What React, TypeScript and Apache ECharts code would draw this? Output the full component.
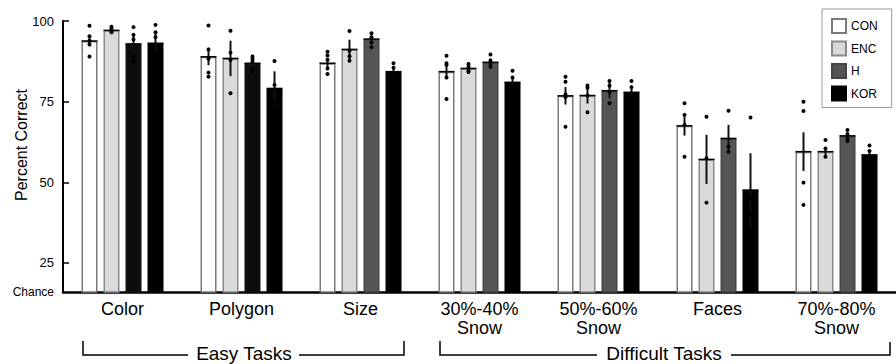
import React, { useEffect, useRef } from "react";
import * as echarts from "echarts";

const categories = ["Color", "Polygon", "Size", "30%-40%\nSnow", "50%-60%\nSnow", "Faces", "70%-80%\nSnow"];
const groups = ["CON", "ENC", "H", "KOR"];

const conMean = [93.8, 88.9, 86.9, 84.3, 76.8, 67.5, 59.5];
const encMean = [97.1, 88.4, 91.2, 85.3, 76.9, 57.1, 59.5];
const hMean = [92.9, 86.9, 94.4, 87.2, 78.4, 63.6, 64.4];
const korMean = [93.1, 79.1, 84.3, 81.0, 77.9, 47.6, 58.5];

const conSem = [1.5, 2.6, 1.2, 2.2, 2.7, 3.0, 6.0];
const encSem = [0.6, 5.5, 3.0, 0.8, 2.5, 7.6, 1.3];
const hSem = [3.3, 1.0, 1.0, 1.2, 2.4, 4.2, 0.8];
const korSem = [3.5, 5.3, 1.5, 1.5, 1.5, 11.4, 1.2];

const conDots = [
  [98.5, 95.3, 93.9, 92.7, 89.0],
  [98.6, 91.2, 88.3, 84.0, 82.7],
  [90.5, 89.3, 88.0, 85.3, 83.6],
  [89.2, 86.9, 86.4, 82.5, 75.8],
  [82.7, 81.2, 77.3, 76.4, 67.2],
  [74.5, 70.9, 67.8, 57.9],
  [75.0, 72.1, 49.9, 43.0],
];
const encDots = [
  [98.2, 97.6, 97.0, 96.5],
  [97.0, 90.2, 87.9, 77.6],
  [96.9, 90.8, 89.1, 87.7],
  [86.7, 85.8, 84.6, 84.2],
  [80.0, 79.3, 76.9, 71.7],
  [70.3, 57.5, 43.7],
  [63.1, 60.5, 57.9],
];
const hDots = [
  [98.1, 95.7, 94.3, 89.0, 87.4],
  [89.0, 88.3, 87.5, 85.0, 84.5],
  [96.2, 95.0, 93.3, 91.9],
  [89.6, 87.7, 86.7, 85.8],
  [81.4, 79.9, 77.8, 74.5],
  [72.2, 61.0, 59.5],
  [66.2, 65.0, 63.6, 62.8],
];
const korDots = [
  [98.8, 96.5, 95.0, 90.0, 86.0],
  [87.6, 80.2, 75.0, 73.0],
  [86.9, 85.5, 83.0, 82.0],
  [84.6, 82.5, 79.5, 77.5],
  [81.4, 79.5, 76.0, 74.7],
  [70.1, 45.0, 40.0, 35.0],
  [61.4, 59.7, 57.5, 55.5],
];

const chanceLevel = 16;
const yTicks = [25, 50, 75, 100];

const FONT = "Liberation Sans, Arial, Helvetica, sans-serif";

export default function App() {
  const ref = useRef<HTMLDivElement>(null);
  useEffect(() => {
    if (!ref.current) return;
    const chart = echarts.init(ref.current, undefined, { renderer: "svg" });
    const means = [conMean, encMean, hMean, korMean];
    const sems = [conSem, encSem, hSem, korSem];
    const dots = [conDots, encDots, hDots, korDots];
    const fills = ["#ffffff", "#dadada", "#555555", "#000000"];
    const borders = ["#7a7a7a", "#8a8a8a", "#444444", "#000000"];
    const step = 22;

    const barSeries = groups.map((g, gi) => ({
      name: g,
      type: "bar",
      barWidth: 16,
      barGap: "37.5%",
      itemStyle: { color: fills[gi], borderColor: borders[gi], borderWidth: 1.5 },
      data: means[gi].map((v, ci) =>
        gi === 2 && ci < 2 ? { value: v, itemStyle: { color: "#0d0d0d", borderColor: "#111" } } : v
      ),
    }));

    const errData: number[][] = [];
    const dotData: number[][] = [];
    groups.forEach((_, gi) => {
      categories.forEach((_, ci) => {
        const m = means[gi][ci];
        const s = sems[gi][ci];
        errData.push([ci, gi, m - s, m + s, m]);
        dots[gi][ci].forEach((d) => dotData.push([ci, gi, d]));
      });
    });

    const option: any = {
      animation: false,
      textStyle: { fontFamily: FONT, color: "#000" },
      grid: { left: 63, top: 21, width: 840, bottom: 72 },
      legend: {
        data: groups,
        orient: "vertical",
        left: 822,
        top: 9,
        icon: "rect",
        itemWidth: 14,
        itemHeight: 14,
        itemGap: 6.5,
        padding: [9, 14, 6, 9],
        borderColor: "#999",
        borderWidth: 1,
        textStyle: { fontFamily: FONT, fontSize: 12, color: "#000" },
        selectedMode: false,
      },
      xAxis: {
        type: "category",
        data: categories,
        axisLine: { lineStyle: { color: "#000", width: 2.5 } },
        axisTick: { show: false },
        axisLabel: { fontFamily: FONT, fontSize: 18, lineHeight: 19, color: "#000", margin: 7, interval: 0 },
      },
      yAxis: {
        type: "value",
        min: chanceLevel,
        max: 100,
        splitLine: { show: false },
        axisLine: { show: true, lineStyle: { color: "#000", width: 2 } },
        axisTick: { show: true, inside: true, length: 6, lineStyle: { color: "#000", width: 1.5 }, customValues: yTicks },
        axisLabel: {
          customValues: [chanceLevel, ...yTicks],
          fontFamily: FONT,
          fontSize: 13,
          color: "#000",
          margin: 9,
          formatter: (v: number) => (v === chanceLevel ? "{c|Chance}" : String(v)),
          rich: { c: { fontFamily: FONT, fontSize: 12, color: "#000" } },
        },
      },
      series: [
        ...barSeries,
        {
          type: "custom",
          name: "err",
          data: errData,
          encode: { x: 0, y: [2, 3] },
          z: 3,
          renderItem: (params: any, api: any) => {
            const ci = api.value(0);
            const gi = api.value(1);
            const pLo = api.coord([ci, api.value(2)]);
            const pHi = api.coord([ci, api.value(3)]);
            const pM = api.coord([ci, api.value(4)]);
            const x = pLo[0] + (gi - 1.5) * step;
            return {
              type: "group",
              children: [
                { type: "line", shape: { x1: x, y1: pHi[1], x2: x, y2: pLo[1] }, style: { stroke: "#111", lineWidth: 2 } },
                { type: "line", shape: { x1: x - 8, y1: pM[1], x2: x + 8, y2: pM[1] }, style: { stroke: "#000", lineWidth: 1.5 } },
              ],
            };
          },
        },
        {
          type: "custom",
          name: "dots",
          data: dotData,
          encode: { x: 0, y: 2 },
          z: 4,
          renderItem: (params: any, api: any) => {
            const ci = api.value(0);
            const gi = api.value(1);
            const p = api.coord([ci, api.value(2)]);
            return {
              type: "circle",
              shape: { cx: p[0] + (gi - 1.5) * step, cy: p[1], r: 2 },
              style: { fill: "#000" },
            };
          },
        },
      ],
      graphic: [
        {
          type: "text",
          x: 21,
          y: 145,
          rotation: Math.PI / 2,
          style: { text: "Percent Correct", font: `16px ${FONT}`, fill: "#000", textAlign: "center", textVerticalAlign: "middle" },
        },
        { type: "polyline", shape: { points: [[83, 341], [83, 355], [188, 355]] }, style: { stroke: "#000", lineWidth: 1.5, fill: null } },
        { type: "polyline", shape: { points: [[299, 355], [404, 355], [404, 341]] }, style: { stroke: "#000", lineWidth: 1.5, fill: null } },
        {
          type: "text",
          x: 244,
          y: 353,
          style: { text: "Easy Tasks", font: `19px ${FONT}`, fill: "#000", textAlign: "center", textVerticalAlign: "middle" },
        },
        { type: "polyline", shape: { points: [[440, 341], [440, 355], [597, 355]] }, style: { stroke: "#000", lineWidth: 1.5, fill: null } },
        { type: "polyline", shape: { points: [[731, 355], [890, 355], [890, 342]] }, style: { stroke: "#000", lineWidth: 1.5, fill: null } },
        {
          type: "text",
          x: 664,
          y: 353,
          style: { text: "Difficult Tasks", font: `19px ${FONT}`, fill: "#000", textAlign: "center", textVerticalAlign: "middle" },
        },
      ],
    };
    chart.setOption(option);
    return () => chart.dispose();
  }, []);
  return <div ref={ref} style={{ position: "fixed", left: 0, top: 0, width: 896, height: 364, background: "#fff" }} />;
}
